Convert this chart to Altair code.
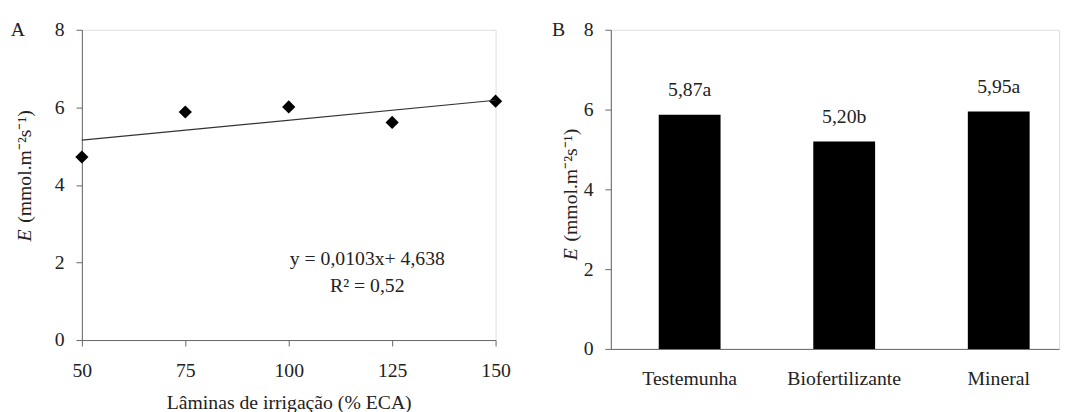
import altair as alt
import pandas as pd

# Panel A data
laminas = [50, 75, 100, 125, 150]
e_values = [4.72, 5.88, 6.01, 5.61, 6.16]
trend_x = [50, 150]
trend_y = [5.153, 6.183]
eq_lines = ["y = 0,0103x+ 4,638", "R² = 0,52"]

# Panel B data
tratamentos = ["Testemunha", "Biofertilizante", "Mineral"]
b_values = [5.87, 5.20, 5.95]
b_labels = ["5,87a", "5,20b", "5,95a"]

FONT = "Liberation Serif, Times New Roman, serif"
FS = 20
TXT = "#222"

axis_common = dict(
    labelFont=FONT, labelFontSize=FS, labelColor=TXT, labelFlush=False,
    domainColor="#666", tickColor="#666", grid=False, tickSize=6,
)


def ytitle(xoff, ybottom):
    d = pd.DataFrame({"t": ["E"]})
    e = alt.Chart(d).mark_text(font=FONT, fontSize=FS, fontStyle="italic", color=TXT,
                               angle=270, align="left", baseline="middle").encode(
        x=alt.value(xoff), y=alt.value(ybottom), text="t:N")
    r = alt.Chart(pd.DataFrame({"t": ["(mmol.m⁻²s⁻¹)"]})).mark_text(
        font=FONT, fontSize=FS, color=TXT, angle=270, align="left",
        baseline="middle").encode(
        x=alt.value(xoff), y=alt.value(ybottom - 19), text="t:N")
    return e + r


def panel_letter(letter, xoff, yoff):
    return alt.Chart(pd.DataFrame({"t": [letter]})).mark_text(
        font=FONT, fontSize=FS, color=TXT, align="center", baseline="middle").encode(
        x=alt.value(xoff), y=alt.value(yoff), text="t:N")


dfA = pd.DataFrame({"x": laminas, "y": e_values})
dfT = pd.DataFrame({"x": trend_x, "y": trend_y})
dfEq = pd.DataFrame({"x": [119, 119], "y": [2.1, 1.4], "t": eq_lines})

xA = alt.X("x:Q", scale=alt.Scale(domain=[50, 150], nice=False),
           axis=alt.Axis(values=laminas, title="Lâminas  de irrigação (% ECA)",
                         titleFont=FONT, titleFontSize=FS, titleFontWeight="normal",
                         titleColor=TXT, titlePadding=12, labelPadding=15, **axis_common))
yA = alt.Y("y:Q", scale=alt.Scale(domain=[0, 8], nice=False),
           axis=alt.Axis(values=[0, 2, 4, 6, 8], title=None, labelPadding=12,
                         **axis_common))

pts = alt.Chart(dfA).mark_point(shape="diamond", filled=True, color="black",
                                size=180, opacity=1).encode(x=xA, y=yA)
trend = alt.Chart(dfT).mark_line(color="#333", strokeWidth=1.2).encode(x="x:Q", y="y:Q")
eq = alt.Chart(dfEq).mark_text(font=FONT, fontSize=FS, color=TXT).encode(
    x="x:Q", y="y:Q", text="t:N")

chartA = alt.layer(pts, trend, eq, ytitle(-58, 215), panel_letter("A", -65, 0)).properties(
    width=420, height=315)

dfB = pd.DataFrame({"cat": tratamentos, "v": b_values, "lab": b_labels})
xB = alt.X("cat:N", sort=tratamentos,
           scale=alt.Scale(paddingInner=0.6, paddingOuter=0.25, align=0.62),
           axis=alt.Axis(title=None, ticks=False, labelAngle=0, labelPadding=20,
                         **axis_common))
yB = alt.Y("v:Q", scale=alt.Scale(domain=[0, 8], nice=False),
           axis=alt.Axis(values=[0, 2, 4, 6, 8], title=None, labelPadding=12,
                         **axis_common))
bars = alt.Chart(dfB).mark_bar(color="black").encode(x=xB, y=yB)
blabels = alt.Chart(dfB).mark_text(font=FONT, fontSize=FS, color=TXT, dy=-25,
                                   baseline="middle").encode(
    x=alt.X("cat:N", sort=tratamentos), y="v:Q", text="lab:N")

chartB = alt.layer(bars, blabels, ytitle(-40, 234), panel_letter("B", -53, 0)).properties(
    width=455, height=324)

chart = alt.hconcat(chartA, chartB, spacing=40).properties(
    padding={"top": 8, "left": 2, "right": 0, "bottom": 0}
).configure_view(stroke=None).configure(background="white")

chart.save("out.html", embed_options={"renderer": "svg", "actions": False})
